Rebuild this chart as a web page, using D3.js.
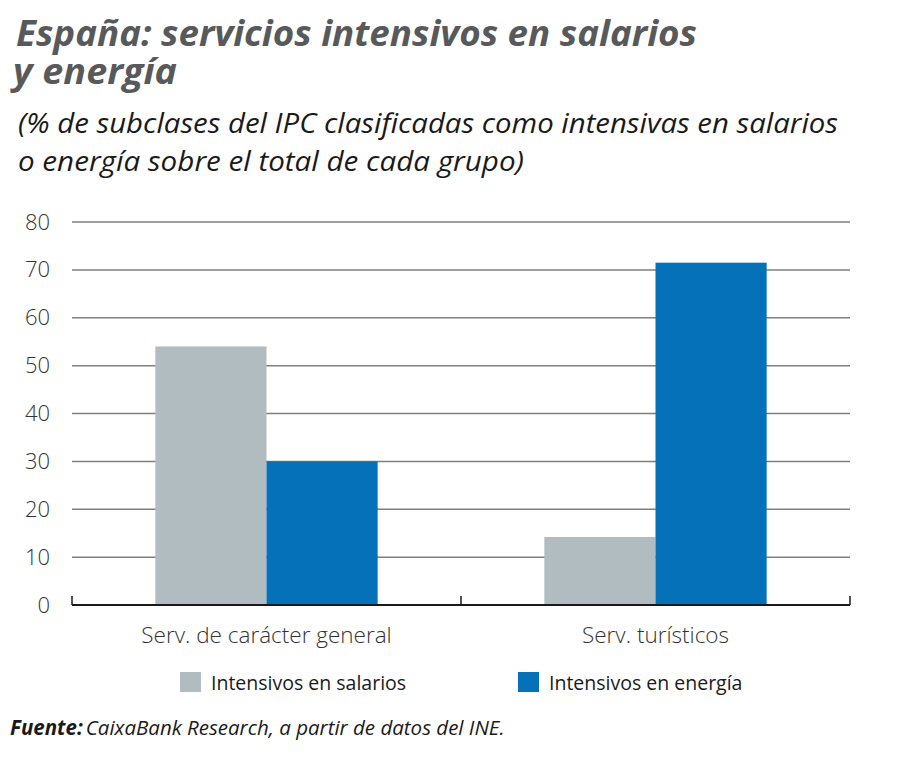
<!DOCTYPE html>
<html>
<head>
<meta charset="utf-8">
<script src="https://cdn.jsdelivr.net/npm/d3@7"></script>
<style>
  html, body { margin: 0; padding: 0; background: #fff; }
  svg { display: block; }
</style>
</head>
<body>
<svg id="chart" width="900" height="776"></svg>
<script>
const categories = ["Serv. de carácter general", "Serv. turísticos"];
const seriesNames = ["Intensivos en salarios", "Intensivos en energía"];
const salarios = [54, 14.2];
const energia = [30, 71.5];
const yTicks = [0, 10, 20, 30, 40, 50, 60, 70, 80];
const colors = ["#b1bcc0", "#0571b8"];

(function () {
const svg = d3.select("#chart");
const font = "'Open Sans', 'Noto Sans', sans-serif";

// Title (one text element, two lines)
const title = svg.append("text")
  .attr("font-family", font).attr("font-weight", 700).attr("font-style", "italic")
  .attr("font-size", 35).attr("fill", "#58595b");
title.append("tspan").attr("x", 16).attr("y", 46)
  .attr("textLength", 681).attr("lengthAdjust", "spacingAndGlyphs")
  .text("España: servicios intensivos en salarios");
title.append("tspan").attr("x", 13).attr("y", 84)
  .attr("textLength", 164).attr("lengthAdjust", "spacingAndGlyphs")
  .text("y energía");

// Subtitle
const sub = svg.append("text")
  .attr("font-family", font).attr("font-weight", 400).attr("font-style", "italic")
  .attr("font-size", 27).attr("fill", "#1a1a1a");
sub.append("tspan").attr("x", 18).attr("y", 133)
  .attr("textLength", 820).attr("lengthAdjust", "spacingAndGlyphs")
  .text("(% de subclases del IPC clasificadas como intensivas en salarios");
sub.append("tspan").attr("x", 18).attr("y", 171)
  .attr("textLength", 506).attr("lengthAdjust", "spacingAndGlyphs")
  .text("o energía sobre el total de cada grupo)");

// Scales
const mLeft = 72, mRight = 850, mTop = 222, mBottom = 605;
const y = d3.scaleLinear().domain([0, 80]).range([mBottom, mTop]);
const x0 = d3.scaleBand().domain(categories).range([mLeft, mRight]).padding(0);
const x1 = d3.scaleBand().domain(seriesNames).range([0, x0.bandwidth()])
  .paddingInner(0).paddingOuter(0.75);

// Grid
svg.append("g").selectAll("line.grid").data(yTicks.filter(d => d > 0)).join("line")
  .attr("class", "grid")
  .attr("x1", mLeft).attr("x2", mRight)
  .attr("y1", d => y(d)).attr("y2", d => y(d))
  .attr("stroke", "#7f7f7f").attr("stroke-width", 1.5);

// Y axis labels
const yAxis = d3.axisLeft(y).tickValues(yTicks).tickSize(0).tickPadding(0);
const ya = svg.append("g").attr("transform", "translate(50,0)").call(yAxis);
ya.select(".domain").remove();
ya.selectAll("text").attr("font-family", font).attr("font-size", 22)
  .attr("font-weight", 300).attr("fill", "#333");

// Bars
const data = categories.map((c, i) => ({ cat: c, vals: [salarios[i], energia[i]] }));
const groups = svg.append("g").selectAll("g").data(data).join("g")
  .attr("transform", d => `translate(${x0(d.cat)},0)`);
groups.selectAll("rect").data(d => d.vals.map((v, j) => ({ v, s: seriesNames[j], j })))
  .join("rect")
  .attr("x", d => x1(d.s)).attr("width", x1.bandwidth())
  .attr("y", d => y(d.v)).attr("height", d => y(0) - y(d.v))
  .attr("fill", d => colors[d.j]);

// X axis
const xa = svg.append("g").attr("transform", `translate(0,${mBottom})`);
xa.append("line").attr("x1", mLeft).attr("x2", mRight).attr("y1", 0).attr("y2", 0)
  .attr("stroke", "#1a1a1a").attr("stroke-width", 1.8);
const tickXs = [mLeft, ...categories.slice(1).map(c => x0(c)), mRight];
xa.selectAll("line.tick").data(tickXs).join("line").attr("class", "tick")
  .attr("x1", d => d).attr("x2", d => d).attr("y1", 0).attr("y2", -9)
  .attr("stroke", "#1a1a1a").attr("stroke-width", 1.5);
xa.selectAll("text.cat").data(categories).join("text").attr("class", "cat")
  .attr("x", d => x0(d) + x0.bandwidth() / 2).attr("y", 38)
  .attr("text-anchor", "middle")
  .attr("font-family", font).attr("font-size", 22.5).attr("font-weight", 300)
  .attr("fill", "#333").text(d => d);

// Legend
const legendX = [180, 518];
const leg = svg.append("g").selectAll("g").data(seriesNames).join("g")
  .attr("transform", (d, i) => `translate(${legendX[i]},672)`);
leg.append("rect").attr("width", 21).attr("height", 20).attr("fill", (d, i) => colors[i]);
leg.append("text").attr("x", 31).attr("y", 18)
  .attr("font-family", font).attr("font-size", 19.5).attr("font-weight", 400)
  .attr("fill", "#1a1a1a").text(d => d);

// Source
const src = svg.append("text").attr("x", 10).attr("y", 735)
  .attr("font-family", font).attr("font-size", 20.5).attr("fill", "#1a1a1a");
src.append("tspan").attr("font-weight", 700).attr("font-style", "italic").text("Fuente:");
src.append("tspan").attr("font-weight", 400).attr("font-style", "italic").attr("dx", 3)
  .text("CaixaBank Research, a partir de datos del INE.");
})();
</script>
</body>
</html>
